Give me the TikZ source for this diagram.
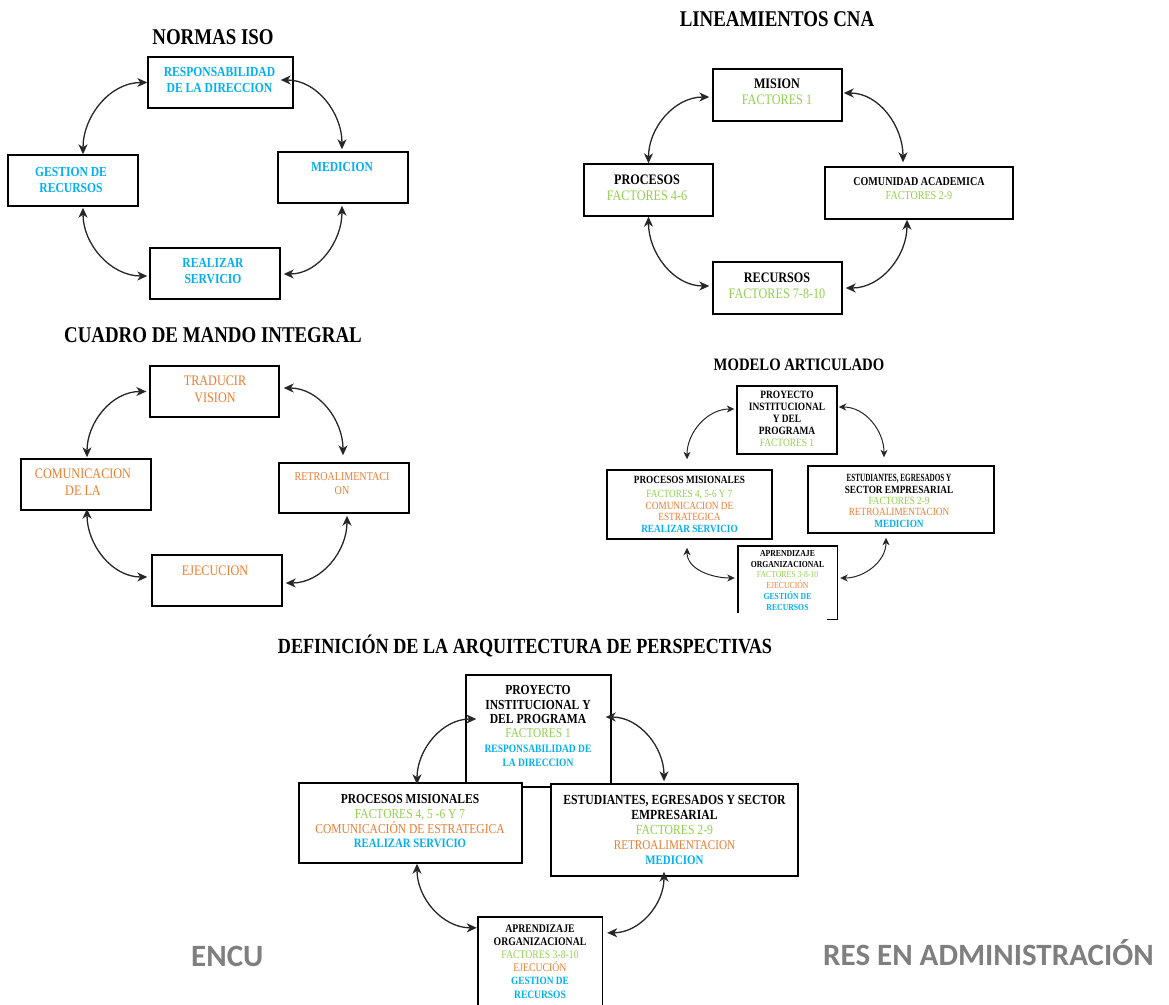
\documentclass[tikz,border=0pt]{standalone}
\usepackage{fontspec}
\usepackage{graphicx}
\setmainfont{Liberation Serif}[FakeStretch=0.84]
\newfontfamily\graysans{Carlito}
\usetikzlibrary{arrows.meta}
\definecolor{cyanT}{HTML}{00B0F0}
\definecolor{greenT}{HTML}{92D050}
\definecolor{orangeT}{HTML}{ED7D31}
\definecolor{footgray}{HTML}{7F7F7F}
\newcommand{\fsz}[2]{\fontsize{#1}{#2}\selectfont}

\begin{document}
\begin{tikzpicture}[x=1pt,y=1pt,
  bx/.style 2 args={draw=black, line width=1.4pt, fill=white, inner sep=0pt,
    minimum width=#1, minimum height=#2},
  tx/.style={inner sep=0pt, align=center, anchor=north},
  ttl/.style={inner sep=0pt, anchor=base},
  arr/.style={<->, >={Stealth[length=10pt,width=9pt,inset=3pt]}, line width=1.3pt, draw=black!85},
  arrs/.style={<->, >={Stealth[length=7.5pt,width=7pt,inset=2.2pt]}, line width=1pt, draw=black!85}
]
\useasboundingbox (0,0) rectangle (1169,-1004);

% ---------------- NORMAS ISO ----------------
\node[ttl, font=\fsz{22.5}{24}\bfseries] (tIso) at (213,-44.4) {NORMAS ISO};
\node[bx={145}{51}] (isoR) at (220.5,-82.5) {};
\node[bx={130}{51}] (isoG) at (73,-180.5) {};
\node[bx={130}{51}] (isoM) at (343,-177.5) {};
\node[bx={130}{51}] (isoS) at (215,-273.5) {};
\node[tx, font=\fsz{13.8}{16}\bfseries, text=cyanT] (isoRt) at (219.5,-67.4) {RESPONSABILIDAD\\DE LA DIRECCION};
\node[tx, font=\fsz{13.8}{16}\bfseries, text=cyanT] (isoGt) at (71,-167.4) {GESTION DE\\RECURSOS};
\node[tx, font=\fsz{13.8}{16}\bfseries, text=cyanT] (isoMt) at (342,-162.4) {MEDICION};
\node[tx, font=\fsz{13.8}{16}\bfseries, text=cyanT] (isoSt) at (213,-258.4) {REALIZAR\\SERVICIO};
\draw[arr] (isoR.west) to[out=180,in=90] ([xshift=10]isoG.north);
\draw[arr] ([xshift=-13,yshift=2.5]isoR.east) to[out=0,in=90] ([xshift=-1,yshift=2]isoM.north);
\draw[arr] ([xshift=10,yshift=-1]isoG.south) to[out=-90,in=180] ([xshift=-2,yshift=-2.5]isoS.west);
\draw[arr] ([xshift=-1,yshift=-2]isoM.south) to[out=-90,in=0] ([xshift=3,yshift=-0.5]isoS.east);

% ---------------- LINEAMIENTOS CNA ----------------
\node[ttl, font=\fsz{22.5}{24}\bfseries] (tCna) at (777,-26.4) {LINEAMIENTOS CNA};
\node[bx={129}{52}] (cM) at (777.5,-95) {};
\node[bx={129}{52}] (cP) at (648.5,-190) {};
\node[bx={188}{52}] (cC) at (919,-193) {};
\node[bx={129}{52}] (cR) at (777.5,-288) {};
\node[tx, font=\fsz{14.5}{16.5}] (cMt) at (777,-78.2) {\bfseries MISION\\\textcolor{greenT}{FACTORES 1}};
\node[tx, font=\fsz{14.5}{16.5}] (cPt) at (647,-174.2) {\bfseries PROCESOS\\\textcolor{greenT}{FACTORES 4-6}};
\node[tx, font=\fsz{12}{14}] (cCt) at (919,-177) {\bfseries COMUNIDAD ACADEMICA\\\textcolor{greenT}{FACTORES 2-9}};
\node[tx, font=\fsz{14.5}{16.5}] (cRt) at (777,-272.2) {\bfseries RECURSOS\\\textcolor{greenT}{FACTORES 7-8-10}};
\draw[arr] ([xshift=-3,yshift=-2]cM.west) to[out=180,in=90] (cP.north);
\draw[arr] ([xshift=1,yshift=2]cM.east) to[out=0,in=90] ([xshift=-16,yshift=4]cC.north);
\draw[arr] (cP.south) to[out=-90,in=180] ([xshift=-3,yshift=2]cR.west);
\draw[arr] ([xshift=-12]cC.south) to[out=-90,in=0] ([xshift=3]cR.east);

% ---------------- CUADRO DE MANDO INTEGRAL ----------------
\node[ttl, font=\fsz{22.5}{24}\bfseries] (tCmi) at (213,-342.4) {CUADRO DE MANDO INTEGRAL};
\node[bx={129}{51}] (qT) at (214.5,-391.5) {};
\node[bx={130}{51}] (qC) at (86,-484.5) {};
\node[bx={130}{50}] (qR) at (344,-488) {};
\node[bx={130}{51}] (qE) at (217,-580.5) {};
\node[tx, font=\fsz{14.5}{17.5}, text=orangeT] (qTt) at (215,-375.2) {TRADUCIR\\VISION};
\node[tx, font=\fsz{14.5}{17.5}, text=orangeT] (qCt) at (83,-468.2) {COMUNICACION\\DE LA};
\node[tx, font=\fsz{12}{14}, text=orangeT] (qRt) at (342,-472) {RETROALIMENTACI\\ON};
\node[tx, font=\fsz{14.5}{17.5}, text=orangeT] (qEt) at (215,-565.2) {EJECUCION};
\draw[arr] ([xshift=-3]qT.west) to[out=180,in=90] ([xshift=1,yshift=1]qC.north);
\draw[arr] ([xshift=4,yshift=3.5]qT.east) to[out=0,in=90] ([xshift=-1,yshift=7]qR.north);
\draw[arr] ([xshift=1,yshift=2]qC.south) to[out=-90,in=180] ([xshift=-4,yshift=3.5]qE.west);
\draw[arr] ([xshift=3,yshift=-2]qR.south) to[out=-90,in=0] ([xshift=3,yshift=-2.5]qE.east);

% ---------------- MODELO ARTICULADO ----------------
\node[ttl, font=\fsz{17.5}{19}\bfseries] (tMod) at (799,-370.8) {MODELO ARTICULADO};
\node[bx={100}{68}] (mP) at (787,-420) {};
\node[bx={165}{69}] (mM) at (689.5,-504.5) {};
\node[bx={186}{67}] (mE) at (901,-499.5) {};
\node[inner sep=0pt, minimum width=99, minimum height=73] (mA) at (787.5,-582.5) {};
\draw[line width=1.4pt] ([yshift=6]mA.south west) -- (mA.north west) -- (mA.north east)
  -- (mA.south east) -- ([xshift=-10]mA.south east);
\node[tx, font=\fsz{11.2}{12}] (mPt) at (787,-391.3)
  {\bfseries PROYECTO\\\bfseries INSTITUCIONAL\\\bfseries Y DEL\\\bfseries PROGRAMA\\\textcolor{greenT}{FACTORES 1}};
\node[tx, font=\fsz{11}{11.5}] (mMt) at (689.5,-476.3)
  {\bfseries PROCESOS MISIONALES\\[2.5pt]\textcolor{greenT}{FACTORES 4, 5-6 Y 7}\\\textcolor{orangeT}{COMUNICACION DE}\\\textcolor{orangeT}{ESTRATEGICA}\\\textcolor{cyanT}{\bfseries REALIZAR SERVICIO}};
\node[tx, font=\fsz{11}{11.3}] (mEt) at (899,-474.4)
  {\bfseries\scalebox{0.77}[1]{ESTUDIANTES, EGRESADOS Y}\\\bfseries SECTOR EMPRESARIAL\\\textcolor{greenT}{FACTORES 2-9}\\\textcolor{orangeT}{RETROALIMENTACION}\\\textcolor{cyanT}{\bfseries MEDICION}};
\node[tx, font=\fsz{9.2}{10.8}] (mAt) at (787.5,-550)
  {\bfseries APRENDIZAJE\\\bfseries ORGANIZACIONAL\\\textcolor{greenT}{FACTORES 3-8-10}\\\textcolor{orangeT}{EJECUCIÓN}\\\textcolor{cyanT}{\bfseries GESTIÓN DE}\\\textcolor{cyanT}{\bfseries RECURSOS}};
\draw[arrs] ([xshift=-2,yshift=11]mP.west) to[out=180,in=90] ([xshift=-2.5,yshift=10]mM.north);
\draw[arrs] ([xshift=1,yshift=13]mP.east) to[out=0,in=90] ([xshift=-17,yshift=8]mE.north);
\draw[arrs] ([xshift=-2.5,yshift=-8]mM.south) to[out=-90,in=180] ([xshift=-3,yshift=4.5]mA.west);
\draw[arrs] ([xshift=-15,yshift=-4]mE.south) to[out=-90,in=0] ([xshift=3,yshift=4.5]mA.east);

% ---------------- DEFINICION DE LA ARQUITECTURA ----------------
\node[ttl, font=\fsz{21.6}{23}\bfseries] (tDef) at (525,-653.1) {DEFINICIÓN DE LA ARQUITECTURA DE PERSPECTIVAS};
\node[bx={145}{112}] (dP) at (538.5,-731) {};
\node[bx={223}{80}] (dM) at (410.5,-823) {};
\node[bx={247}{92}] (dE) at (674.5,-830) {};
\node[inner sep=0pt, minimum width=124, minimum height=87] (dA) at (540,-960.5) {};
\draw[line width=1.4pt] ([yshift=-10]dA.south west) -- (dA.north west) -- (dA.north east) -- ([yshift=-10]dA.south east);
\node[tx, font=\fsz{13.8}{14.4}] (dPt) at (538,-685.4)
  {\bfseries PROYECTO\\\bfseries INSTITUCIONAL Y\\\bfseries DEL PROGRAMA\\{\fsz{13.5}{14.4}\color{greenT}FACTORES 1}\\{\fsz{11.3}{14.4}\bfseries\color{cyanT}RESPONSABILIDAD DE}\\{\fsz{11.3}{14.4}\bfseries\color{cyanT}LA DIRECCION}};
\node[tx, font=\fsz{13.7}{14.7}] (dMt) at (410,-794.5)
  {\bfseries PROCESOS MISIONALES\\\textcolor{greenT}{FACTORES 4, 5 -6 Y 7}\\\textcolor{orangeT}{COMUNICACIÓN DE ESTRATEGICA}\\{\fsz{12.8}{14.7}\bfseries\color{cyanT}REALIZAR SERVICIO}};
\node[tx, font=\fsz{13.9}{15}] (dEt) at (674.5,-795.4)
  {\bfseries ESTUDIANTES, EGRESADOS Y SECTOR\\\bfseries EMPRESARIAL\\\textcolor{greenT}{FACTORES 2-9}\\{\fsz{13.3}{15}\color{orangeT}RETROALIMENTACION}\\{\fsz{13}{15}\bfseries\color{cyanT}MEDICION}};
\node[tx, font=\fsz{11.6}{13.2}] (dAt) at (540,-924.2)
  {\bfseries APRENDIZAJE\\\bfseries ORGANIZACIONAL\\\textcolor{greenT}{FACTORES 3-8-10}\\\textcolor{orangeT}{EJECUCIÓN}\\{\fsz{11.1}{13.2}\bfseries\color{cyanT}GESTION DE}\\{\fsz{11.3}{13.2}\bfseries\color{cyanT}RECURSOS}};
\draw[arr] ([xshift=11,yshift=12]dP.west) to[out=180,in=90] ([xshift=6.5,yshift=-2]dM.north);
\draw[arr] ([xshift=-6,yshift=14]dP.east) to[out=0,in=90] ([xshift=-10.5,yshift=2]dE.north);
\draw[arr] ([xshift=6.5]dM.south) to[out=-90,in=180] ([xshift=-1,yshift=-11]dA.north west);
\draw[arr] ([xshift=-10.5,yshift=5]dE.south) to[out=-90,in=0] ([xshift=5,yshift=-16]dA.north east);

% ---------------- footer fragments ----------------
\node[inner sep=0pt, anchor=base west, font=\graysans\fsz{31}{31}\bfseries, text=footgray] (foot1) at (191,-966) {ENCU};
\node[inner sep=0pt, anchor=base west, font=\graysans\fsz{31}{31}\bfseries, text=footgray] (foot2) at (823,-965) {RES EN ADMINISTRACIÓN};
\end{tikzpicture}
\end{document}
